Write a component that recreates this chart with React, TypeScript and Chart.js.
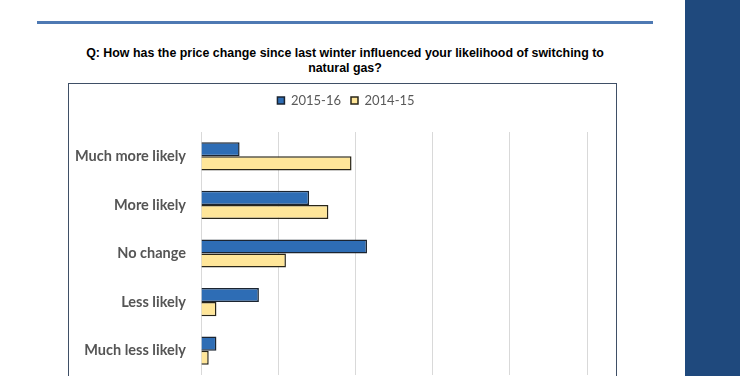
import React, { useEffect, useRef } from "react";
import { Chart, registerables } from "chart.js";

Chart.register(...registerables);

const categories = ["Much more likely", "More likely", "No change", "Less likely", "Much less likely"];
const series2015 = [10, 28, 43, 15, 4];
const series2014 = [39, 33, 22, 4, 2];
const seriesLabels = ["2015-16", "2014-15"];
const xTicks = [0, 20, 40, 60, 80, 100];

const titleText1 = "Q: How has the price change since last winter influenced your likelihood of switching to";
const titleText2 = "natural gas?";

export default function App() {
  const canvasRef = useRef<HTMLCanvasElement | null>(null);

  useEffect(() => {
    if (!canvasRef.current) return;
    const legendFix = {
      id: "legendFix",
      beforeInit(chart: any) {
        const lg = chart.legend;
        if (lg) {
          const orig = lg.fit;
          lg.fit = function () {
            orig.call(this);
            this.height = 48;
          };
        }
      },
      afterLayout(chart: any) {
        const lg = chart.legend;
        if (lg) {
          lg.left += 18;
          lg.right += 18;
        }
      },
    };
    const chart = new Chart(canvasRef.current, {
      type: "bar",
      data: {
        labels: categories,
        datasets: [
          {
            label: seriesLabels[0],
            data: series2015,
            backgroundColor: "#2E6DB5",
            borderColor: "#1B2430",
            borderWidth: 1.5,
            categoryPercentage: 0.58,
            barPercentage: 1.0,
          },
          {
            label: seriesLabels[1],
            data: series2014,
            backgroundColor: "#FFE699",
            borderColor: "#2A2618",
            borderWidth: 1.5,
            categoryPercentage: 0.58,
            barPercentage: 1.0,
          },
        ],
      },
      options: {
        indexAxis: "y",
        animation: false,
        responsive: true,
        maintainAspectRatio: false,
        layout: { padding: { top: 0, right: 30, bottom: 0, left: 0 } },
        plugins: {
          legend: {
            display: true,
            position: "top",
            labels: {
              boxWidth: 7,
              boxHeight: 7,
              padding: 10,
              color: "#595959",
              font: { family: "Lato", size: 13 },
            },
          },
          tooltip: { enabled: false },
          title: { display: false },
        },
        scales: {
          x: {
            min: 0,
            max: 100,
            afterBuildTicks: (s: any) => {
              s.ticks = xTicks.map((v) => ({ value: v }));
            },
            afterFit: (s: any) => {
              s.height = 25;
            },
            grid: { color: "#D9D9D9", lineWidth: 1, drawTicks: false },
            border: { display: false },
            ticks: {
              padding: 6,
              color: "#595959",
              font: { family: "Lato", size: 12 },
              callback: (v: any) => v + "%",
            },
          },
          y: {
            afterFit: (s: any) => {
              s.width = 132;
            },
            grid: { display: false, drawTicks: false },
            border: { display: false },
            ticks: {
              padding: 15,
              color: "#555555",
              font: { family: "Lato", size: 14.5, weight: "bold" },
            },
          },
        },
      },
      plugins: [legendFix],
    });
    return () => chart.destroy();
  }, []);

  return (
    <div
      style={{
        position: "fixed",
        left: 0,
        top: 0,
        width: 740,
        height: 376,
        overflow: "hidden",
        background: "#FFFFFF",
      }}
    >
      <div style={{ position: "absolute", left: 37, top: 21, width: 616, height: 2.5, background: "#4E79B3" }} />
      <div style={{ position: "absolute", left: 685, top: 0, width: 55, height: 376, background: "#1F497D" }} />
      <div
        style={{
          position: "absolute",
          left: 37,
          top: 46,
          width: 616,
          textAlign: "center",
          fontFamily: "'Liberation Sans', Arial, sans-serif",
          fontWeight: "bold",
          fontSize: 12.4,
          lineHeight: "15px",
          color: "#000000",
        }}
      >
        <div>{titleText1}</div>
        <div>{titleText2}</div>
      </div>
      <div
        style={{
          position: "absolute",
          left: 68,
          top: 83,
          width: 549,
          height: 320,
          border: "1.5px solid #3F4F66",
          boxSizing: "border-box",
        }}
      />
      <div style={{ position: "absolute", left: 69, top: 84, width: 548, height: 316 }}>
        <canvas ref={canvasRef} />
      </div>
    </div>
  );
}
